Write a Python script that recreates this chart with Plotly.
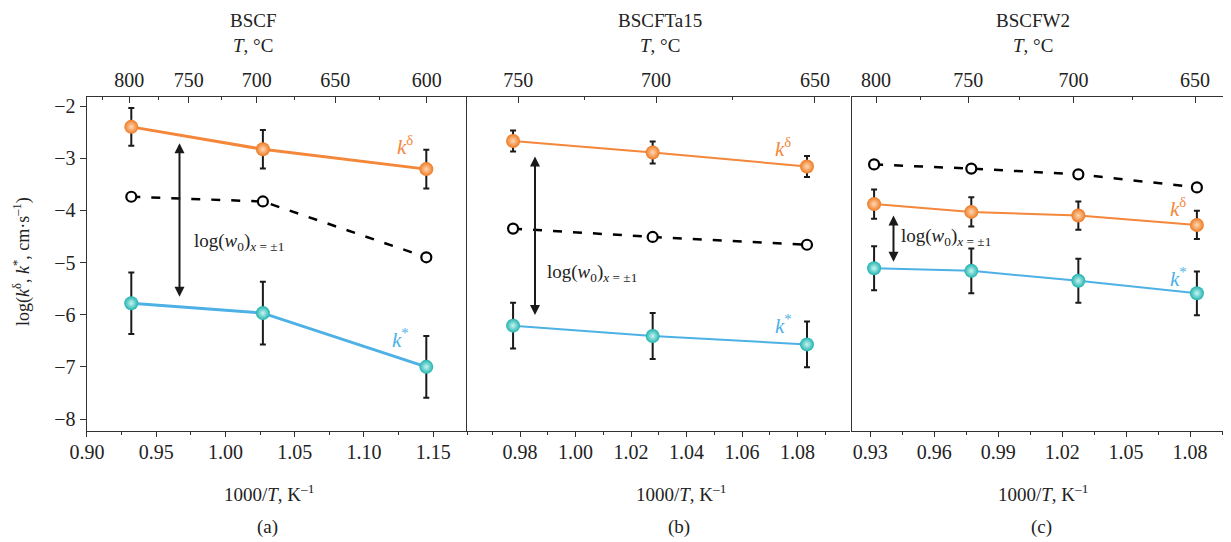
import plotly.graph_objects as go

# page has an 8px body margin: figure is drawn at (8, 8) in the 1231x542 window
OFF = 8
W, H = 1231 - OFF, 542 - OFF

# ---------------- data ----------------
# panel (a) BSCF
xa = [0.932, 1.027, 1.145]
kd_a = [-2.40, -2.83, -3.21]
kd_a_err = [0.36, 0.37, 0.37]
w0_a = [-3.74, -3.83, -4.90]
ks_a = [-5.78, -5.97, -7.00]
ks_a_err = [0.59, 0.60, 0.59]

# panel (b) BSCFTa15
xb = [0.9775, 1.0278, 1.0834]
kd_b = [-2.67, -2.89, -3.16]
kd_b_err = [0.20, 0.21, 0.20]
w0_b = [-4.35, -4.51, -4.66]
ks_b = [-6.21, -6.41, -6.57]
ks_b_err = [0.44, 0.44, 0.44]

# panel (c) BSCFW2
xc = [0.9318, 0.9774, 1.0276, 1.0832]
kd_c = [-3.88, -4.03, -4.10, -4.28]
kd_c_err = [0.28, 0.28, 0.27, 0.27]
w0_c = [-3.12, -3.20, -3.31, -3.56]
ks_c = [-5.11, -5.16, -5.35, -5.59]
ks_c_err = [0.42, 0.43, 0.42, 0.42]

# top temperature axes (°C)
top_a = [800, 750, 700, 650, 600]
top_a_minor = [825, 775, 725, 675, 625]
top_b = [750, 700, 650]
top_b_minor = [725, 675]
top_c = [800, 750, 700, 650]
top_c_minor = [775, 725, 675]

titles = ["BSCF", "BSCFTa15", "BSCFW2"]
letters = ["(a)", "(b)", "(c)"]

# ---------------- style ----------------
FONT = "'Liberation Serif', 'Times New Roman', Times, serif"
ORANGE_LINE = "#F4873A"
ORANGE_MK = "#EE7A22"
BLUE_LINE = "#4DB1E6"
TEAL_MK = "#20B3AE"
AX = "#333333"


def px(x):
    return (x - OFF) / W


def py(y):
    return 1 - (y - OFF) / H


top_px, bot_px = 96.5, 430.5
ydom = [py(bot_px), py(top_px)]
dom_a = [px(86.7), px(468)]
dom_b = [px(467), px(850)]
dom_c = [px(851.7), 1.0]

fig = go.Figure()


def add_panel(x, kd, kd_err, w0, ks, ks_err, xr, yr, lw):
    # dashed w0
    fig.add_trace(go.Scatter(
        x=x, y=w0, xaxis=xr, yaxis=yr, mode="lines+markers",
        line=dict(color="black", width=2.5, dash="9px,11px"),
        marker=dict(size=10, color="white", line=dict(color="black", width=2.2)),
        showlegend=False, hoverinfo="skip"))
    # k delta
    fig.add_trace(go.Scatter(
        x=x, y=kd, xaxis=xr, yaxis=yr, mode="lines+markers",
        line=dict(color=ORANGE_LINE, width=lw),
        marker=dict(size=14, color=ORANGE_MK,
                    gradient=dict(type="radial", color="#FFD9B5"),
                    line=dict(width=0)),
        error_y=dict(type="data", array=kd_err, color="#1a1a1a",
                     thickness=2, width=3),
        showlegend=False, hoverinfo="skip"))
    # k*
    fig.add_trace(go.Scatter(
        x=x, y=ks, xaxis=xr, yaxis=yr, mode="lines+markers",
        line=dict(color=BLUE_LINE, width=lw),
        marker=dict(size=14, color=TEAL_MK,
                    gradient=dict(type="radial", color="#C8F5F2"),
                    line=dict(width=0)),
        error_y=dict(type="data", array=ks_err, color="#1a1a1a",
                     thickness=2, width=3),
        showlegend=False, hoverinfo="skip"))


add_panel(xa, kd_a, kd_a_err, w0_a, ks_a, ks_a_err, "x", "y", 3)
add_panel(xb, kd_b, kd_b_err, w0_b, ks_b, ks_b_err, "x3", "y2", 2)
add_panel(xc, kd_c, kd_c_err, w0_c, ks_c, ks_c_err, "x5", "y3", 2)

# invisible traces on the top axes so they are drawn
for xr, yr, tl in [("x2", "y", top_a), ("x4", "y2", top_b), ("x6", "y3", top_c)]:
    fig.add_trace(go.Scatter(x=[1000 / tl[0]], y=[-5], xaxis=xr, yaxis=yr,
                             mode="markers", marker=dict(opacity=0),
                             showlegend=False, hoverinfo="skip"))

YR = [-8.22, -1.818]
tickfont = dict(family=FONT, size=20, color="#222")


def bottom_axis(dom, rng, dtick, minor_dtick, anchor, fmt):
    return dict(domain=dom, range=rng, anchor=anchor, showgrid=False,
                automargin=False,
                zeroline=False, showline=True, linecolor=AX, linewidth=1.3,
                ticks="outside", ticklen=5, tickwidth=1.2, tickcolor=AX,
                dtick=dtick, tick0=0, tickformat=fmt, tickfont=tickfont,
                ticklabelstandoff=-2,
                minor=dict(dtick=minor_dtick, tick0=0, ticks="outside",
                           ticklen=3, tickwidth=1, tickcolor=AX))


def top_axis(over, anchor, rng, temps, minor_temps):
    return dict(overlaying=over, anchor=anchor, side="top", range=rng,
                automargin=False,
                showgrid=False, zeroline=False, showline=True, linecolor=AX,
                linewidth=1.3, ticks="inside", ticklen=6, tickwidth=1.2,
                tickcolor=AX, tickmode="array",
                tickvals=[1000 / t for t in temps],
                ticktext=[str(t) for t in temps], tickfont=tickfont,
                minor=dict(tickmode="array",
                           tickvals=[1000 / t for t in minor_temps],
                           ticks="inside", ticklen=3, tickwidth=1,
                           tickcolor=AX))


fig.update_layout(
    width=W, height=H, margin=dict(l=0, r=0, t=0, b=0, autoexpand=False),
    paper_bgcolor="white", plot_bgcolor="white",
    font=dict(family=FONT, size=19, color="#222"),
    xaxis=bottom_axis(dom_a, [0.8998, 1.1751], 0.05, 0.025, "y", ".2f"),
    xaxis2=top_axis("x", "y", [1.1903, 1.7245], top_a, top_a_minor),
    xaxis3=bottom_axis(dom_b, [0.9609, 1.0989], 0.02, 0.01, "y2", ".2f"),
    xaxis4=top_axis("x3", "y2", [1.2979, 1.5627], top_b, top_b_minor),
    xaxis5=bottom_axis(dom_c, [0.9213, 1.0992], 0.03, 0.015, "y3", ".2f"),
    xaxis6=top_axis("x5", "y3", [1.228, 1.5709], top_c, top_c_minor),
    yaxis=dict(domain=ydom, range=YR, anchor="x", showgrid=False,
               automargin=False,
               zeroline=False, showline=True, linecolor=AX, linewidth=1.3,
               ticks="outside", ticklen=6, tickwidth=1.2, tickcolor=AX,
               dtick=1, tickfont=tickfont),
    yaxis2=dict(domain=ydom, range=YR, anchor="x3", showgrid=False,
                automargin=False,
                zeroline=False, showline=True, linecolor=AX, linewidth=1.3,
                showticklabels=False, ticks=""),
    yaxis3=dict(domain=ydom, range=YR, anchor="x5", showgrid=False,
                automargin=False,
                zeroline=False, showline=True, linecolor=AX, linewidth=1.3,
                showticklabels=False, ticks=""),
)

ann = []


def text_at(x, y, text, **kw):
    d = dict(x=px(x), y=py(y), xref="paper", yref="paper", text=text,
             showarrow=False, xanchor="center", yanchor="middle")
    d.update(kw)
    ann.append(d)


# titles and T labels
for cx, t in zip([253, 660, 1033], titles):
    text_at(cx, 20, t, font=dict(size=19))
    text_at(cx, 45, "<i>T</i>, °C", font=dict(size=19))
for cx, l in zip([269, 681, 1043], letters):
    text_at(cx, 493, "1000/<i>T</i>, K<sup>–1</sup>", font=dict(size=19))
    text_at(cx - 2, 527, l, font=dict(size=19))

# y-axis title
text_at(22, 262,
        "log(<i>k</i><sup>δ</sup>, <i>k</i><sup>*</sup>, cm·s<sup>–1</sup>)",
        textangle=-90, font=dict(size=18))

# k labels
for (xx, yy) in [(405, 145), (783, 147), (1178, 207)]:
    text_at(xx, yy, "<i>k</i><sup>δ</sup>",
            font=dict(size=21, color=ORANGE_LINE))
for (xx, yy) in [(400, 338), (783, 324), (1178, 277)]:
    text_at(xx, yy, "<i>k</i><sup>*</sup>",
            font=dict(size=21, color=BLUE_LINE))

# log(w0) labels
for (xx, yy) in [(191.7, 241.7), (545, 273.3), (899, 236.7)]:
    text_at(xx, yy, "log(<i>w</i><sub>0</sub>)<sub><i>x</i> = ±1</sub>",
            xanchor="left", font=dict(size=19))

# double-headed arrows
for (xr, yr, xx, y1, y2) in [("x", "y", 0.9668, -2.684, -5.655),
                             ("x3", "y2", 0.9854, -2.939, -6.006),
                             ("x5", "y3", 0.9409, -4.07, -4.985)]:
    ann.append(dict(x=xx, y=y2, ax=xx, ay=y1, xref=xr, yref=yr,
                    axref=xr, ayref=yr, text="", showarrow=True,
                    arrowhead=2, arrowside="end+start", arrowsize=1,
                    arrowwidth=2, arrowcolor="#1a1a1a", standoff=0,
                    startstandoff=0))

fig.update_layout(annotations=ann)
fig.write_html("out.html")
